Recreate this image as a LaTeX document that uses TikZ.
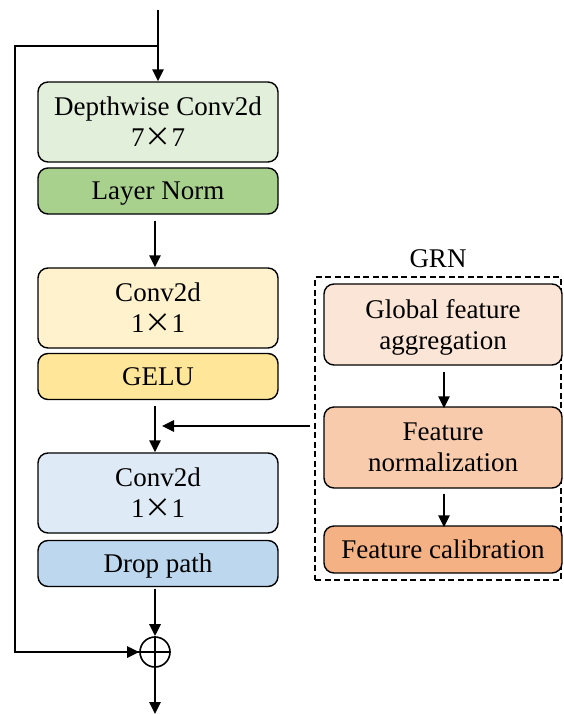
\documentclass[tikz,border=0pt]{standalone}
\usepackage{fontspec}
\setmainfont{Liberation Serif}
\newfontfamily\cjkfont{Noto Sans CJK SC}
\newcommand{\wx}{{\cjkfont ×}}
\usetikzlibrary{arrows.meta,calc}
\definecolor{gA}{HTML}{E2EFDA}
\definecolor{gB}{HTML}{A9D18E}
\definecolor{yA}{HTML}{FFF2CC}
\definecolor{yB}{HTML}{FFE699}
\definecolor{bA}{HTML}{DEEBF7}
\definecolor{bB}{HTML}{BDD7EE}
\definecolor{oA}{HTML}{FBE5D6}
\definecolor{oB}{HTML}{F8CBAD}
\definecolor{oC}{HTML}{F4B183}
\begin{document}
\begin{tikzpicture}[x=1pt,y=-1pt,
  blk/.style={draw=black,line width=1.4pt,rounded corners=10pt,minimum width=240pt,align=center,
    font=\fontsize{27}{31}\selectfont,inner sep=0pt,text depth=0pt},
  tall/.style={blk,minimum height=80pt},
  short/.style={blk,minimum height=46pt,text height=18pt},
  arr/.style={line width=2.6pt,-{Triangle[length=12pt,width=11pt]}},
  ln/.style={line width=2.6pt}]
\useasboundingbox (0,0) rectangle (563,714);
% main column
\node[tall,fill=gA] (dw) at (158,122) {Depthwise Conv2d\\7\wx7};
\node[short,fill=gB] (lnorm) at (158,191) {Layer Norm};
\node[tall,fill=yA] (c1) at (158,308) {Conv2d\\1\wx1};
\node[short,fill=yB] (gelu) at (158,376.5) {GELU};
\node[tall,fill=bA] (c2) at (158,493) {Conv2d\\1\wx1};
\node[short,fill=bB] (dp) at (158,563.5) {Drop path};
\node[circle,draw,line width=1.6pt,minimum size=30pt,inner sep=0pt] (add) at (155,652) {};
\draw[line width=1.4pt] (add.north) -- (add.south) (add.west) -- (add.east);
% GRN
\node[font=\fontsize{27}{31}\selectfont] (grnlabel) at (438,259) {GRN};
\node[draw,dash pattern=on 6pt off 3.5pt,line width=1.1pt,minimum width=246pt,minimum height=303pt,inner sep=0pt] (grn) at (438,428.5) {};
\node[blk,minimum width=238pt,minimum height=81pt,fill=oA] (gfa) at (443,324.5) {Global feature\\aggregation};
\node[blk,minimum width=238pt,minimum height=81pt,fill=oB] (fn) at (443,447.5) {Feature\\normalization};
\node[blk,minimum width=238pt,minimum height=47pt,text height=18pt,fill=oC] (fc) at (443,549.5) {Feature calibration};
% coordinates
\coordinate (top) at (158,10);
\coordinate (br) at (158,46);
\coordinate (lt) at (15,46);
\coordinate (lb) at (15,652);
\coordinate (grnout) at (310,426);
\coordinate (grnin) at (155,426);
\coordinate (bot) at (155,714);
% connectors
\draw[arr] (top) -- (dw.north);
\draw[ln] (br) -- (lt) -- (lb) -- (add.west);
\draw[arr] (lb) -- (add.west);
\draw[arr] ([xshift=-3pt,yshift=-6pt]lnorm.south) -- ([xshift=-3pt]c1.north);
\draw[arr] ([xshift=-3pt,yshift=-6pt]gelu.south) -- ([xshift=-3pt]c2.north);
\draw[arr] (grnout) -- ([xshift=7pt]grnin);
\draw[arr] ([xshift=-3pt,yshift=-2pt]dp.south) -- (add.north);
\draw[arr] (add.south) -- (bot);
\draw[arr] ([xshift=1pt,yshift=-6pt]gfa.south) -- ([xshift=1pt,yshift=-2pt]fn.north);
\draw[arr] ([xshift=1pt,yshift=-5pt]fn.south) -- ([xshift=1pt,yshift=-2pt]fc.north);
\end{tikzpicture}
\end{document}
